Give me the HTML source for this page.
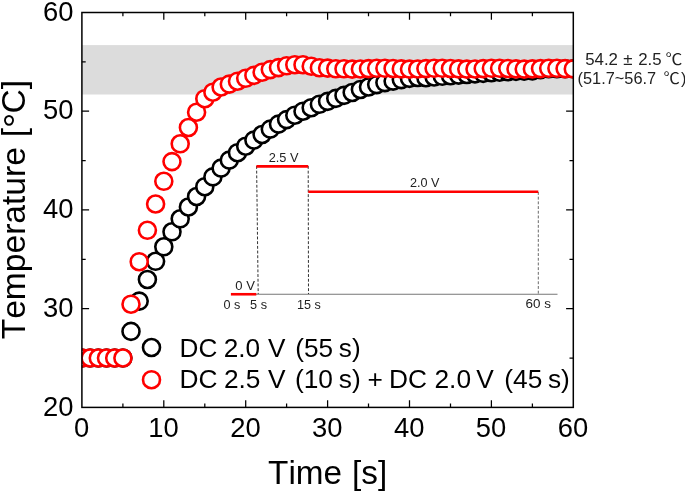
<!DOCTYPE html>
<html><head><meta charset="utf-8"><title>Temperature vs Time</title>
<style>
html,body{margin:0;padding:0;background:#fff;}
svg{display:block;}
text{font-family:'Liberation Sans','NanumGothic','Noto Sans CJK KR',sans-serif;fill:#000;font-kerning:none;}
</style></head><body>
<svg width="685" height="493" viewBox="0 0 685 493">
<rect x="0" y="0" width="685" height="493" fill="#fff"/>
<defs><clipPath id="plot"><rect x="81.9" y="12.5" width="492.0" height="394.9"/></clipPath></defs>
<rect x="81.9" y="45.1" width="491.4" height="49.4" fill="#dcdcdc"/>
<g id="inset">
<line x1="256" y1="294.25" x2="557.5" y2="294.25" stroke="#666" stroke-width="0.9"/>
<line x1="256.6" y1="166.0" x2="258.2" y2="294" stroke="#333" stroke-width="1" stroke-dasharray="2.9 1.8"/>
<line x1="308.2" y1="166.0" x2="308.5" y2="294" stroke="#333" stroke-width="1" stroke-dasharray="2.9 1.8"/>
<line x1="538.3" y1="192.0" x2="538.3" y2="294" stroke="#6a6a6a" stroke-width="1" stroke-dasharray="2.9 1.8"/>
<line x1="230.9" y1="294.25" x2="256.3" y2="294.25" stroke="#f00" stroke-width="2.6"/>
<line x1="256.4" y1="166.4" x2="308.2" y2="166.4" stroke="#f00" stroke-width="2.6"/>
<line x1="308.3" y1="191.7" x2="538.3" y2="191.7" stroke="#f00" stroke-width="2.6"/>
<text transform="translate(235.29 289.60) scale(1.0068 1)" font-size="13" style="fill:#222">0 V</text>
<text transform="translate(268.69 161.90) scale(1.0228 1)" font-size="12.5" style="fill:#222">2.5 V</text>
<text transform="translate(409.99 187.30) scale(1.0123 1)" font-size="12.5" style="fill:#222">2.0 V</text>
<text transform="translate(223.52 308.50) scale(1.0556 1)" font-size="12" style="fill:#222">0 s</text>
<text transform="translate(250.02 308.50) scale(1.0622 1)" font-size="12" style="fill:#222">5 s</text>
<text transform="translate(296.95 308.50) scale(1.0523 1)" font-size="12" style="fill:#222">15 s</text>
<text transform="translate(525.53 308.40) scale(1.1208 1)" font-size="12" style="fill:#222">60 s</text>
</g>
<path d="M122.9 407.4v-3.8M122.9 12.5v3.8M163.8 407.4v-7.2M163.8 12.5v7.2M204.8 407.4v-3.8M204.8 12.5v3.8M245.7 407.4v-7.2M245.7 12.5v7.2M286.6 407.4v-3.8M286.6 12.5v3.8M327.6 407.4v-7.2M327.6 12.5v7.2M368.5 407.4v-3.8M368.5 12.5v3.8M409.5 407.4v-7.2M409.5 12.5v7.2M450.5 407.4v-3.8M450.5 12.5v3.8M491.4 407.4v-7.2M491.4 12.5v7.2M532.4 407.4v-3.8M532.4 12.5v3.8M81.9 358.0h3.8M573.3 358.0h-3.8M81.9 308.7h7.2M573.3 308.7h-7.2M81.9 259.3h3.8M573.3 259.3h-3.8M81.9 209.9h7.2M573.3 209.9h-7.2M81.9 160.6h3.8M573.3 160.6h-3.8M81.9 111.2h7.2M573.3 111.2h-7.2M81.9 61.9h3.8M573.3 61.9h-3.8" stroke="#000" stroke-width="1.25" fill="none"/>
<g clip-path="url(#plot)" fill="#fff" stroke-width="2.6">
<g stroke="#000"><circle cx="81.9" cy="358.0" r="8.5"/><circle cx="90.1" cy="358.0" r="8.5"/><circle cx="98.3" cy="358.0" r="8.5"/><circle cx="106.5" cy="358.0" r="8.5"/><circle cx="114.7" cy="358.0" r="8.5"/><circle cx="122.9" cy="358.0" r="8.5"/><circle cx="131.0" cy="331.4" r="8.5"/><circle cx="139.2" cy="301.1" r="8.5"/><circle cx="147.4" cy="279.5" r="8.5"/><circle cx="155.6" cy="261.3" r="8.5"/><circle cx="163.8" cy="246.8" r="8.5"/><circle cx="172.0" cy="231.8" r="8.5"/><circle cx="180.2" cy="218.8" r="8.5"/><circle cx="188.4" cy="207.0" r="8.5"/><circle cx="196.6" cy="196.5" r="8.5"/><circle cx="204.8" cy="186.7" r="8.5"/><circle cx="212.9" cy="176.9" r="8.5"/><circle cx="221.1" cy="168.1" r="8.5"/><circle cx="229.3" cy="160.1" r="8.5"/><circle cx="237.5" cy="152.7" r="8.5"/><circle cx="245.7" cy="146.2" r="8.5"/><circle cx="253.9" cy="140.1" r="8.5"/><circle cx="262.1" cy="134.5" r="8.5"/><circle cx="270.3" cy="129.1" r="8.5"/><circle cx="278.5" cy="124.1" r="8.5"/><circle cx="286.6" cy="119.6" r="8.5"/><circle cx="294.8" cy="115.2" r="8.5"/><circle cx="303.0" cy="111.2" r="8.5"/><circle cx="311.2" cy="107.7" r="8.5"/><circle cx="319.4" cy="104.3" r="8.5"/><circle cx="327.6" cy="101.4" r="8.5"/><circle cx="335.8" cy="98.4" r="8.5"/><circle cx="344.0" cy="95.4" r="8.5"/><circle cx="352.2" cy="92.5" r="8.5"/><circle cx="360.4" cy="89.5" r="8.5"/><circle cx="368.5" cy="87.0" r="8.5"/><circle cx="376.7" cy="84.6" r="8.5"/><circle cx="384.9" cy="82.6" r="8.5"/><circle cx="393.1" cy="81.1" r="8.5"/><circle cx="401.3" cy="79.6" r="8.5"/><circle cx="409.5" cy="78.4" r="8.5"/><circle cx="417.7" cy="77.5" r="8.5"/><circle cx="425.9" cy="77.7" r="8.5"/><circle cx="434.1" cy="77.0" r="8.5"/><circle cx="442.3" cy="76.3" r="8.5"/><circle cx="450.5" cy="75.7" r="8.5"/><circle cx="458.6" cy="75.1" r="8.5"/><circle cx="466.8" cy="74.5" r="8.5"/><circle cx="475.0" cy="73.9" r="8.5"/><circle cx="483.2" cy="73.4" r="8.5"/><circle cx="491.4" cy="72.7" r="8.5"/><circle cx="499.6" cy="72.2" r="8.5"/><circle cx="507.8" cy="71.7" r="8.5"/><circle cx="516.0" cy="71.4" r="8.5"/><circle cx="524.2" cy="71.1" r="8.5"/><circle cx="532.4" cy="70.9" r="8.5"/><circle cx="540.5" cy="69.6" r="8.5"/><circle cx="548.7" cy="68.8" r="8.5"/><circle cx="556.9" cy="68.8" r="8.5"/><circle cx="565.1" cy="68.8" r="8.5"/><circle cx="573.3" cy="68.8" r="8.5"/></g>
<g stroke="#f00"><circle cx="81.9" cy="358.0" r="8.5"/><circle cx="90.1" cy="358.0" r="8.5"/><circle cx="98.3" cy="358.0" r="8.5"/><circle cx="106.5" cy="358.0" r="8.5"/><circle cx="114.7" cy="358.0" r="8.5"/><circle cx="122.9" cy="358.0" r="8.5"/><circle cx="131.0" cy="304.2" r="8.5"/><circle cx="139.2" cy="261.7" r="8.5"/><circle cx="147.4" cy="230.3" r="8.5"/><circle cx="155.6" cy="204.0" r="8.5"/><circle cx="163.8" cy="181.3" r="8.5"/><circle cx="172.0" cy="161.6" r="8.5"/><circle cx="180.2" cy="143.8" r="8.5"/><circle cx="188.4" cy="127.5" r="8.5"/><circle cx="196.6" cy="112.2" r="8.5"/><circle cx="204.8" cy="98.7" r="8.5"/><circle cx="212.9" cy="92.2" r="8.5"/><circle cx="221.1" cy="87.0" r="8.5"/><circle cx="229.3" cy="84.1" r="8.5"/><circle cx="237.5" cy="81.2" r="8.5"/><circle cx="245.7" cy="78.3" r="8.5"/><circle cx="253.9" cy="75.4" r="8.5"/><circle cx="262.1" cy="72.2" r="8.5"/><circle cx="270.3" cy="69.6" r="8.5"/><circle cx="278.5" cy="67.6" r="8.5"/><circle cx="286.6" cy="65.8" r="8.5"/><circle cx="294.8" cy="64.7" r="8.5"/><circle cx="303.0" cy="64.7" r="8.5"/><circle cx="311.2" cy="66.2" r="8.5"/><circle cx="319.4" cy="67.7" r="8.5"/><circle cx="327.6" cy="68.1" r="8.5"/><circle cx="335.8" cy="68.8" r="8.5"/><circle cx="344.0" cy="68.8" r="8.5"/><circle cx="352.2" cy="69.1" r="8.5"/><circle cx="360.4" cy="69.0" r="8.5"/><circle cx="368.5" cy="68.6" r="8.5"/><circle cx="376.7" cy="68.3" r="8.5"/><circle cx="384.9" cy="68.3" r="8.5"/><circle cx="393.1" cy="68.5" r="8.5"/><circle cx="401.3" cy="68.9" r="8.5"/><circle cx="409.5" cy="69.1" r="8.5"/><circle cx="417.7" cy="69.0" r="8.5"/><circle cx="425.9" cy="68.6" r="8.5"/><circle cx="434.1" cy="68.3" r="8.5"/><circle cx="442.3" cy="68.3" r="8.5"/><circle cx="450.5" cy="68.5" r="8.5"/><circle cx="458.6" cy="68.9" r="8.5"/><circle cx="466.8" cy="69.1" r="8.5"/><circle cx="475.0" cy="69.0" r="8.5"/><circle cx="483.2" cy="68.6" r="8.5"/><circle cx="491.4" cy="68.3" r="8.5"/><circle cx="499.6" cy="68.3" r="8.5"/><circle cx="507.8" cy="68.5" r="8.5"/><circle cx="516.0" cy="68.9" r="8.5"/><circle cx="524.2" cy="69.1" r="8.5"/><circle cx="532.4" cy="68.9" r="8.5"/><circle cx="540.5" cy="68.6" r="8.5"/><circle cx="548.7" cy="68.3" r="8.5"/><circle cx="556.9" cy="68.3" r="8.5"/><circle cx="565.1" cy="68.6" r="8.5"/><circle cx="573.3" cy="68.9" r="8.5"/></g>
</g>
<circle cx="151.5" cy="347.5" r="8.5" fill="#fff" stroke="#000" stroke-width="2.6"/>
<circle cx="151.5" cy="379.7" r="8.5" fill="#fff" stroke="#f00" stroke-width="2.6"/>
<text transform="translate(0 356.50) scale(1.0065 1)" font-size="26"><tspan x="178.42" y="0.00">DC </tspan><tspan x="222.33" y="0.00">2.0 </tspan><tspan x="266.37" y="0.00">V </tspan><tspan x="293.30" y="0.00">(55 </tspan><tspan x="336.63" y="0.00">s)</tspan></text>
<text transform="translate(0 388.00) scale(1.0110 1)" font-size="26"><tspan x="177.55" y="0.00">DC </tspan><tspan x="221.47" y="0.00">2.5 </tspan><tspan x="265.17" y="0.00">V </tspan><tspan x="291.72" y="0.00">(10 </tspan><tspan x="335.11" y="0.00">s) </tspan><tspan x="363.56" y="0.00">+ </tspan><tspan x="384.78" y="0.00">DC </tspan><tspan x="429.78" y="0.00">2.0 </tspan><tspan x="471.11" y="0.00">V </tspan><tspan x="498.86" y="0.00">(45 </tspan><tspan x="541.99" y="0.00">s)</tspan></text>
<g stroke="#000" stroke-width="1.5" fill="none">
<rect x="81.9" y="12.5" width="491.4" height="394.9"/>
</g>
<g font-size="27.4" text-anchor="middle">
<text x="81.6" y="436.8">0</text><text x="163.5" y="436.8">10</text><text x="245.4" y="436.8">20</text><text x="327.3" y="436.8">30</text><text x="409.2" y="436.8">40</text><text x="491.1" y="436.8">50</text><text x="573.0" y="436.8">60</text>
</g>
<g font-size="27.4" text-anchor="end">
<text x="73.4" y="415.6">20</text><text x="73.4" y="316.9">30</text><text x="73.4" y="218.1">40</text><text x="73.4" y="119.4">50</text><text x="73.4" y="20.7">60</text>
</g>
<text transform="translate(0 483.80) scale(1.0274 1)" font-size="32.4"><tspan x="260.94" y="0.00">Time </tspan><tspan x="342.74" y="0.00">[s]</tspan></text>
<g transform="translate(25.4 0) rotate(-90)"><text transform="translate(0 0.00) scale(1.0367 1)" font-size="32.4"><tspan x="-327.31" y="0.00">Temperature </tspan><tspan x="-132.41" y="0.00">[</tspan><tspan x="-123.41" y="4.30" font-size="37">°</tspan><tspan x="-109.37" y="0.00">C]</tspan></text></g>
<text transform="translate(0 65.40) scale(1.0532 1)" font-size="16" style="fill:#222"><tspan x="555.63" y="0.00">54.2 </tspan><tspan x="591.78" y="0.00">± </tspan><tspan x="605.91" y="0.00">2.5 </tspan><tspan x="631.98" y="0.00" style="font-family:'Noto Sans CJK KR','NanumGothic',sans-serif">℃</tspan></text>
<text transform="translate(0 84.40) scale(1.0200 1)" font-size="16" style="fill:#222"><tspan x="566.28" y="0.00">(51.7~56.7 </tspan><tspan x="650.46" y="0.00" style="font-family:'Noto Sans CJK KR','NanumGothic',sans-serif">℃</tspan><tspan x="667.66" y="0.00">)</tspan></text>
</svg>
</body></html>
